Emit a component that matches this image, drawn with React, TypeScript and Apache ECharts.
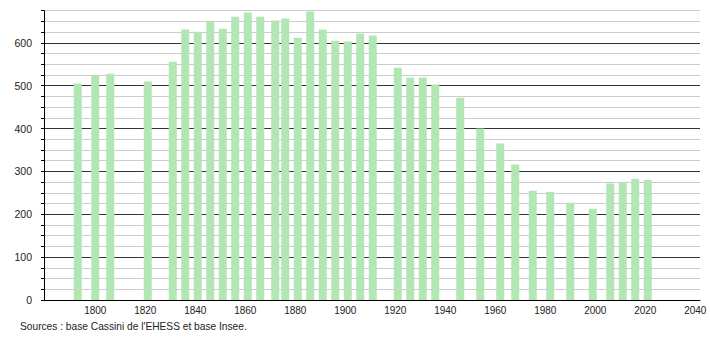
import React, { useEffect, useRef } from "react";
import * as echarts from "echarts";

const years = [1793, 1800, 1806, 1821, 1831, 1836, 1841, 1846, 1851, 1856, 1861, 1866, 1872, 1876, 1881, 1886, 1891, 1896, 1901, 1906, 1911, 1921, 1926, 1931, 1936, 1946, 1954, 1962, 1968, 1975, 1982, 1990, 1999, 2006, 2011, 2016, 2021];
const population = [505, 525, 528, 510, 556, 631, 626, 650, 633, 661, 671, 661, 652, 657, 612, 673, 631, 605, 603, 622, 617, 542, 519, 519, 503, 472, 400, 365, 316, 255, 252, 227, 213, 272, 274, 283, 280];
const sourceText = "Sources : base Cassini de l'EHESS et base Insee.";

export default function App() {
  const ref = useRef<HTMLDivElement>(null);
  useEffect(() => {
    if (!ref.current) return;
    const chart = echarts.init(ref.current, null, { renderer: "svg" });
    const font = "'Liberation Sans', Arial, sans-serif";
    chart.setOption({
      animation: false,
      grid: { left: 44, right: 10, top: 10.7, bottom: 40, containLabel: false },
      xAxis: {
        type: "value",
        min: 1779.5,
        max: 2041.9,
        axisLine: { show: true, lineStyle: { color: "#000", width: 1 } },
        axisTick: { show: false },
        splitLine: { show: false },
        axisLabel: {
          color: "#222",
          fontSize: 10,
          fontFamily: font,
          margin: 5,
          customValues: [1800, 1820, 1840, 1860, 1880, 1900, 1920, 1940, 1960, 1980, 2000, 2020, 2040],
          formatter: (v: number) => String(v),
        },
      },
      yAxis: {
        type: "value",
        min: 0,
        max: 675,
        interval: 25,
        axisLine: { show: true, lineStyle: { color: "#000", width: 1 } },
        axisTick: { show: true, length: 3, lineStyle: { color: "#000" } },
        splitLine: {
          show: true,
          lineStyle: { color: ["#333", "#cccccc", "#cccccc", "#cccccc"], width: 1 },
        },
        axisLabel: {
          color: "#222",
          fontSize: 10.5,
          fontFamily: font,
          margin: 12,
          formatter: (v: number) => (v % 100 === 0 ? String(v) : ""),
        },
      },
      series: [
        {
          type: "bar",
          barWidth: 8,
          data: years.map((y, i) => [y, population[i]]),
          itemStyle: { color: "#b3e6b5" },
          z: 3,
        },
      ],
      graphic: [
        {
          type: "text",
          left: 20,
          top: 321,
          style: { text: sourceText, fill: "#222", fontSize: 10.2, fontFamily: font },
        },
      ],
    });
    return () => chart.dispose();
  }, []);
  return <div ref={ref} style={{ width: 710, height: 340, position: "absolute", left: 0, top: 0 }} />;
}
